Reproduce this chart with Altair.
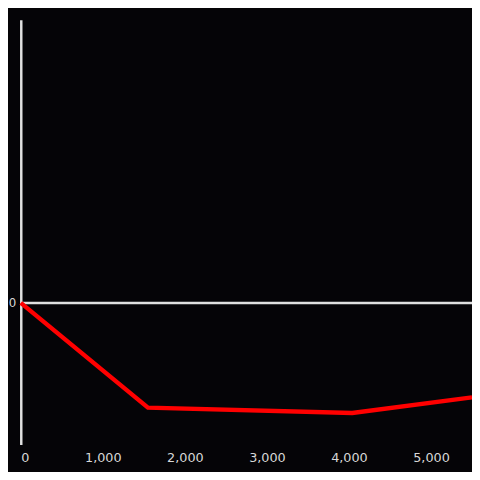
import altair as alt
import pandas as pd

xs = [0, 1550, 4040, 5500]
ys = [0, -0.74, -0.778, -0.667]
x_ticks = [0, 1000, 2000, 3000, 4000, 5000]

df = pd.DataFrame({"x": xs, "y": ys})
zero = pd.DataFrame({"y": [0]})

xscale = alt.Scale(domain=[0, 5500], nice=False, zero=False)
yscale = alt.Scale(domain=[-1, 2], nice=False)

line = alt.Chart(df).mark_line(color="#ff0000", strokeWidth=4.5, strokeCap="butt").encode(
    x=alt.X("x:Q", scale=xscale, title=None,
            axis=alt.Axis(values=x_ticks, format=",d", domain=False, ticks=False, grid=False,
                          labelPadding=7, labelFontSize=13, labelColor="#d8d8d8",
                          labelFont="DejaVu Sans")),
    y=alt.Y("y:Q", scale=yscale, title=None,
            axis=alt.Axis(values=[0], format="d", domain=True, domainColor="#e0e0e0", domainWidth=2.5,
                          ticks=False, grid=False, labelPadding=5, labelFontSize=12,
                          labelColor="#d8d8d8", labelFont="DejaVu Sans")),
)

rule = alt.Chart(zero).mark_rule(color="#e0e0e0", strokeWidth=2.5).encode(
    y=alt.Y("y:Q", scale=yscale)
)

chart = (rule + line).properties(
    width=459, height=432,
    background="#050407",
    autosize=alt.AutoSizeParams(type="none"),
    padding={"left": 13, "top": 8, "right": 0, "bottom": 24},
).configure_view(stroke=None)

chart.save("out.html", embed_options={"renderer": "svg", "actions": False})
